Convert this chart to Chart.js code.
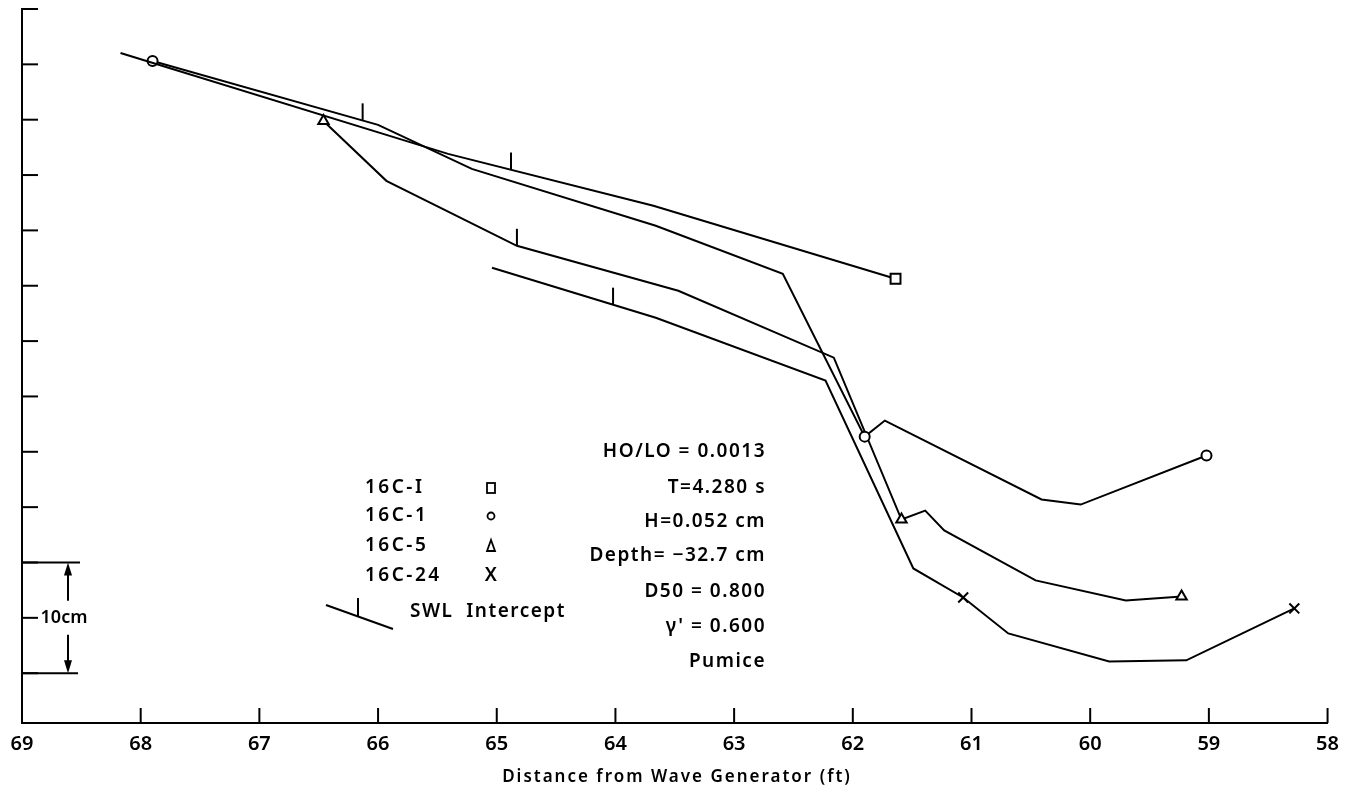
<!DOCTYPE html>
<html>
<head>
<meta charset="utf-8">
<title>Profiles 16C</title>
<script src="https://cdn.jsdelivr.net/npm/chart.js@4.4.1/dist/chart.umd.min.js"></script>
<style>
body { margin: 0; background: #fff; }
canvas { display: block; }
</style>
</head>
<body>
<canvas id="profile" width="1348" height="792"></canvas>
<script>
var distanceTicks = [69, 68, 67, 66, 65, 64, 63, 62, 61, 60, 59, 58];
var depthTicks = [0, -5, -10, -15, -20, -25, -30, -35, -40, -45, -50, -55, -60];

var seriesNames = ["16C-I", "16C-1", "16C-5", "16C-24"];

var run16CI_x = [68.17, 65.41, 63.68, 61.64];
var run16CI_y = [-3.97, -13.09, -17.78, -24.37];
var run16CI_marks = [3];

var run16C1_x = [67.90, 66.00, 65.21, 63.66, 62.59, 61.90, 61.73, 60.41, 60.08, 59.02];
var run16C1_y = [-4.69, -10.47, -14.44, -19.58, -23.92, -38.63, -37.18, -44.31, -44.77, -40.34];
var run16C1_marks = [0, 5, 9];

var run16C5_x = [66.46, 65.93, 64.83, 63.47, 62.16, 61.59, 61.39, 61.23, 60.46, 59.70, 59.23];
var run16C5_y = [-10.11, -15.52, -21.39, -25.45, -31.50, -46.12, -45.31, -47.11, -51.62, -53.43, -53.07];
var run16C5_marks = [0, 5, 10];

var run16C24_x = [65.04, 63.66, 62.23, 61.49, 61.07, 60.69, 59.84, 59.19, 58.28];
var run16C24_y = [-23.38, -27.89, -33.57, -50.54, -53.16, -56.41, -58.94, -58.84, -54.15];
var run16C24_marks = [4, 8];

// SWL intercept per run, same order as seriesNames
var swlX = [64.88, 66.13, 64.83, 64.02];
var swlY = [-14.50, -10.06, -21.39, -26.71];

var scaleBar = [-50, -60];
var waveParams = ["HO/LO = 0.0013", "T=4.280 s", "H=0.052 cm", "Depth= \u221232.7 cm", "D50 = 0.800", "\u03b3' = 0.600", "Pumice"];

var FONT = "'Noto Sans', 'DejaVu Sans', sans-serif";

function makeSeries(name, xs, ys, marks, style, radius) {
    var pts = [];
    for (var i = 0; i < xs.length; i++) {
        pts.push({x: xs[i], y: ys[i]});
    }
    return {
        label: name,
        data: pts,
        showLine: true,
        borderColor: "#000",
        borderWidth: 2,
        tension: 0,
        pointStyle: style,
        pointBackgroundColor: "#fff",
        pointBorderColor: "#000",
        pointBorderWidth: 2,
        pointRadius: xs.map(function(v, i) { return marks.indexOf(i) >= 0 ? radius : 0; }),
        pointHoverRadius: 0
    };
}

function seg(ctx, x1, y1, x2, y2) {
    ctx.beginPath();
    ctx.moveTo(x1, y1);
    ctx.lineTo(x2, y2);
    ctx.stroke();
}

var profileExtras = {
    id: "profileExtras",
    afterDraw: function(chart) {
        var ctx = chart.ctx;
        var xs = chart.scales.x, ys = chart.scales.y, area = chart.chartArea;
        ctx.save();
        ctx.strokeStyle = "#000";
        ctx.fillStyle = "#000";
        ctx.lineWidth = 2;

        // ticks point inwards on this plot
        distanceTicks.forEach(function(v) {
            if (v === 69) return;
            var px = xs.getPixelForValue(v);
            seg(ctx, px, area.bottom, px, area.bottom - 15);
        });
        depthTicks.forEach(function(v) {
            var py = ys.getPixelForValue(v);
            seg(ctx, area.left, py, area.left + 16, py);
        });

        for (var i = 0; i < swlX.length; i++) {
            var sx = xs.getPixelForValue(swlX[i]);
            var sy = ys.getPixelForValue(swlY[i]);
            seg(ctx, sx, sy, sx, sy - 17);
        }

        // 10 cm scale bar
        var top = ys.getPixelForValue(scaleBar[0]);
        var bot = ys.getPixelForValue(scaleBar[1]);
        var barEnd = area.left + 58;
        var ax = area.left + 46;
        seg(ctx, area.left, top, barEnd, top);
        seg(ctx, area.left, bot, barEnd - 2, bot);
        var mid = (top + bot) / 2;
        seg(ctx, ax, top + 10, ax, mid - 17);
        seg(ctx, ax, mid + 17, ax, bot - 10);
        ctx.beginPath();
        ctx.moveTo(ax, top); ctx.lineTo(ax - 4, top + 13); ctx.lineTo(ax + 4, top + 13); ctx.closePath();
        ctx.fill();
        ctx.beginPath();
        ctx.moveTo(ax, bot); ctx.lineTo(ax - 4, bot - 13); ctx.lineTo(ax + 4, bot - 13); ctx.closePath();
        ctx.fill();
        ctx.font = "600 18px " + FONT;
        ctx.textAlign = "center";
        ctx.textBaseline = "middle";
        ctx.fillText("10cm", ax - 4, mid);

        // legend
        ctx.font = "600 19px " + FONT;
        ctx.letterSpacing = "2.5px";
        ctx.textAlign = "left";
        var rows = [488, 516, 546, 576];
        for (var r = 0; r < seriesNames.length; r++) {
            ctx.fillText(seriesNames[r], 365, rows[r]);
        }
        ctx.lineWidth = 1.8;
        ctx.strokeRect(487, rows[0] - 5, 8, 10);
        ctx.beginPath();
        ctx.arc(491, rows[1], 3.5, 0, Math.PI * 2);
        ctx.stroke();
        ctx.beginPath();
        ctx.moveTo(491, rows[2] - 6); ctx.lineTo(487, rows[2] + 5); ctx.lineTo(495, rows[2] + 5); ctx.closePath();
        ctx.stroke();
        ctx.textAlign = "center";
        ctx.fillText("X", 492, rows[3]);

        ctx.lineWidth = 2;
        seg(ctx, 326, 605, 393, 629);
        seg(ctx, 358, 598, 358, 616);
        ctx.textAlign = "left";
        ctx.letterSpacing = "1.5px";
        ctx.fillText("SWL  Intercept", 410, 612);

        // run conditions
        ctx.textAlign = "right";
        var py0 = 452;
        var gaps = [0, 36, 70, 104, 140, 175, 210];
        for (var k = 0; k < waveParams.length; k++) {
            ctx.fillText(waveParams[k], 766, py0 + gaps[k]);
        }

        // axis title
        ctx.font = "600 17px " + FONT;
        ctx.letterSpacing = "2px";
        ctx.textAlign = "center";
        ctx.fillText("Distance from Wave Generator (ft)", 677, 777);
        ctx.restore();
    }
};

var ctx = document.getElementById("profile");
var profileChart = new Chart(ctx, {
    type: "scatter",
    data: {
        datasets: [
            makeSeries(seriesNames[0], run16CI_x, run16CI_y, run16CI_marks, "rect", 7),
            makeSeries(seriesNames[1], run16C1_x, run16C1_y, run16C1_marks, "circle", 5),
            makeSeries(seriesNames[2], run16C5_x, run16C5_y, run16C5_marks, "triangle", 6),
            makeSeries(seriesNames[3], run16C24_x, run16C24_y, run16C24_marks, "crossRot", 7)
        ]
    },
    options: {
        responsive: false,
        animation: false,
        devicePixelRatio: 1,
        layout: { padding: { left: 22, right: 20, top: 8, bottom: 0 } },
        plugins: {
            legend: { display: false },
            tooltip: { enabled: false }
        },
        scales: {
            x: {
                type: "linear",
                reverse: true,
                min: 58,
                max: 69,
                afterBuildTicks: function(scale) {
                    scale.ticks = distanceTicks.map(function(v) { return {value: v}; });
                },
                afterFit: function(scale) { scale.height = 69; },
                grid: { display: false, drawTicks: false },
                border: { display: true, color: "#000", width: 2 },
                ticks: {
                    color: "#000",
                    padding: 9,
                    maxRotation: 0,
                    autoSkip: false,
                    font: { family: FONT, size: 20, weight: "600" }
                }
            },
            y: {
                type: "linear",
                min: -64.5,
                max: 0,
                afterBuildTicks: function(scale) {
                    scale.ticks = depthTicks.map(function(v) { return {value: v}; });
                },
                afterFit: function(scale) { scale.width = 0; },
                grid: { display: false, drawTicks: false },
                border: { display: true, color: "#000", width: 2 },
                ticks: { display: false }
            }
        }
    },
    plugins: [profileExtras]
});
</script>
</body>
</html>
